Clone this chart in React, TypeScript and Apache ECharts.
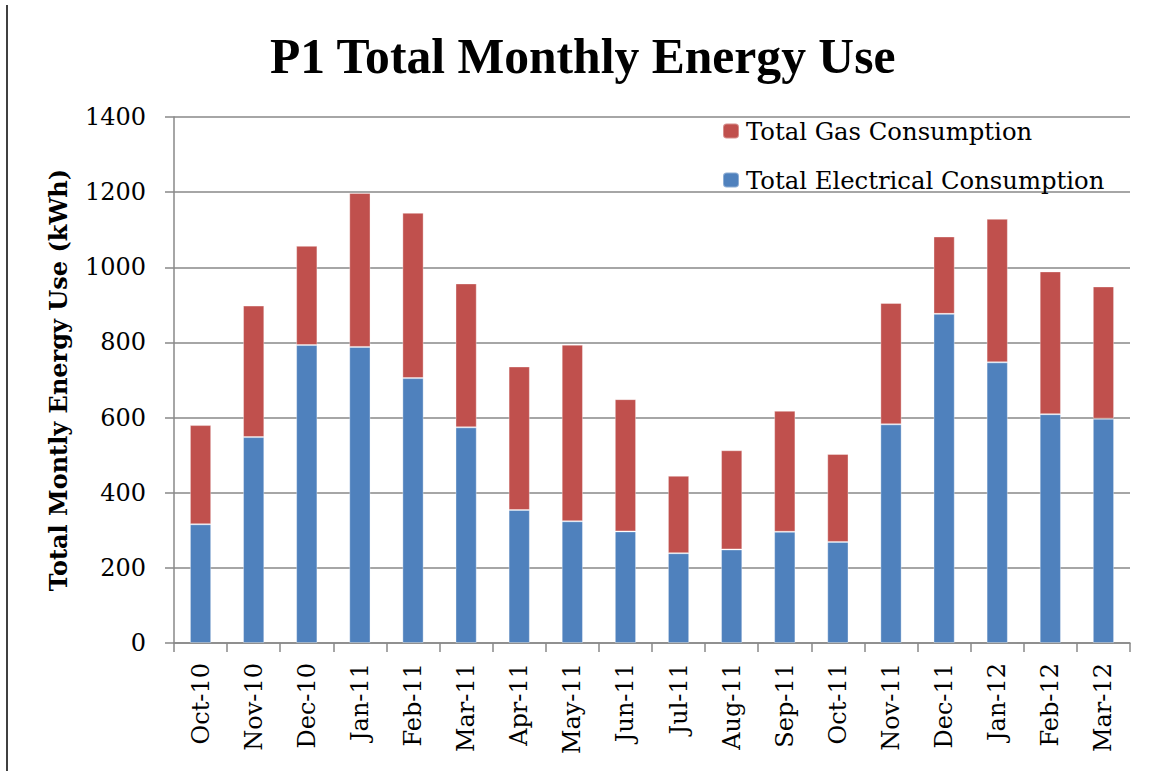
import React, { useEffect, useRef } from "react";
import * as echarts from "echarts";

const months = ["Oct-10", "Nov-10", "Dec-10", "Jan-11", "Feb-11", "Mar-11", "Apr-11", "May-11", "Jun-11", "Jul-11", "Aug-11", "Sep-11", "Oct-11", "Nov-11", "Dec-11", "Jan-12", "Feb-12", "Mar-12"];
const electrical = [316, 548, 793, 788, 705, 574, 354, 324, 297, 239, 249, 296, 269, 582, 876, 747, 609, 597];
const gas = [264, 350, 264, 410, 440, 383, 382, 470, 352, 206, 264, 322, 234, 323, 206, 382, 380, 352];
const yTicks = [0, 200, 400, 600, 800, 1000, 1200, 1400];

const SERIF = "'DejaVu Serif', serif";

export default function App() {
  const ref = useRef<HTMLDivElement>(null);
  useEffect(() => {
    if (!ref.current) return;
    const chart = echarts.init(ref.current, null, { renderer: "svg" });
    chart.setOption({
      animation: false,
      backgroundColor: "#ffffff",
      title: {
        text: "P1 Total Monthly Energy Use",
        left: 270,
        top: 31,
        padding: 0,
        textStyle: { fontFamily: "'Liberation Serif', serif", fontWeight: "bold", fontSize: 49.6, color: "#000" },
      },
      graphic: [
        { type: "line", shape: { x1: 7, y1: 5, x2: 7, y2: 771 }, style: { stroke: "#000", lineWidth: 1.5 } },
      ],
      legend: {
        orient: "vertical",
        left: 722,
        top: 119,
        padding: 0,
        itemWidth: 16,
        itemHeight: 15,
        itemGap: 25,
        data: ["Total Gas Consumption", "Total Electrical Consumption"],
        textStyle: { fontFamily: SERIF, fontSize: 24.3, color: "#000", lineHeight: 24, padding: [0, 0, 0, 2] },
      },
      grid: { left: 174, right: 22, top: 117, bottom: 128 },
      xAxis: {
        type: "category",
        data: months,
        axisLine: { lineStyle: { color: "#888", width: 1.5 } },
        axisTick: { show: true, length: 9, lineStyle: { color: "#888", width: 1.5 } },
        axisLabel: { rotate: 90, margin: 20, fontFamily: SERIF, fontSize: 24, color: "#000" },
      },
      yAxis: {
        type: "value",
        min: yTicks[0],
        max: yTicks[yTicks.length - 1],
        interval: 200,
        name: "Total Montly Energy Use (kWh)",
        nameLocation: "middle",
        nameGap: 104,
        nameTextStyle: { fontFamily: SERIF, fontWeight: "bold", fontSize: 24, color: "#000" },
        axisLine: { show: true, lineStyle: { color: "#888", width: 1.5 } },
        axisTick: { show: true, length: 9, lineStyle: { color: "#888", width: 1.5 } },
        axisLabel: { margin: 28, fontFamily: SERIF, fontSize: 24, color: "#000", formatter: (v: number) => String(v) },
        splitLine: { show: true, lineStyle: { color: "#888", width: 1.5 } },
      },
      series: [
        {
          name: "Total Electrical Consumption",
          type: "bar",
          stack: "total",
          barWidth: "40%",
          data: electrical,
          itemStyle: { color: "#4F81BD", borderColor: "rgba(255,255,255,0.35)", borderWidth: 1 },
        },
        {
          name: "Total Gas Consumption",
          type: "bar",
          stack: "total",
          barWidth: "40%",
          data: gas,
          itemStyle: { color: "#C0504D", borderColor: "rgba(255,255,255,0.35)", borderWidth: 1 },
        },
      ],
    });
    return () => chart.dispose();
  }, []);
  return <div ref={ref} style={{ position: "fixed", left: 0, top: 0, width: 1152, height: 771 }} />;
}
